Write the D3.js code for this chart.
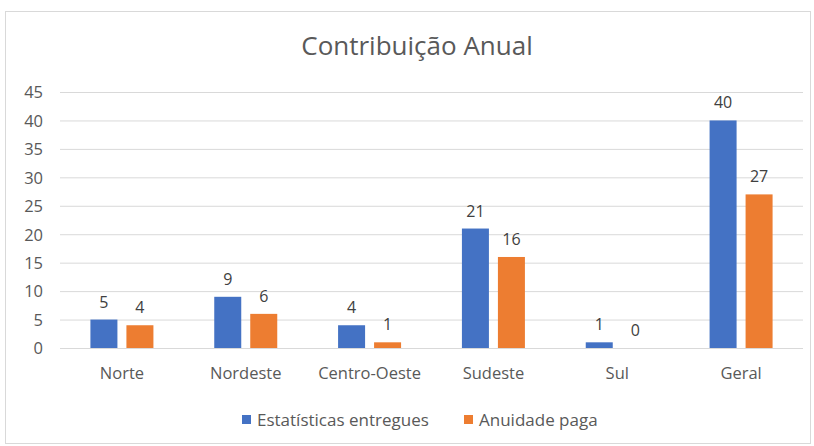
<!DOCTYPE html>
<html lang="pt">
<head>
  <meta charset="UTF-8">
  <title>Contribuição Anual</title>
  <script src="https://d3js.org/d3.v7.min.js"></script>
  <style>
    body { margin: 0; background: #fff; }
    text { font-family: "Open Sans", "DejaVu Sans", sans-serif; }
  </style>
</head>
<body>
<script>
  // chart data
  var regioes = ["Norte", "Nordeste", "Centro-Oeste", "Sudeste", "Sul", "Geral"];
  var estatisticas = [5, 9, 4, 21, 1, 40];
  var anuidade = [4, 6, 1, 16, 0, 27];
  var seriesNames = ["Estatísticas entregues", "Anuidade paga"];
  var yTicks = [0, 5, 10, 15, 20, 25, 30, 35, 40, 45];
  var colors = ["#4472C4", "#ED7D31"];

  var width = 814, height = 446;
  var plot = { left: 60, right: 803, top: 92, bottom: 348 };

  var svg = d3.select("body").append("svg")
    .attr("width", width)
    .attr("height", height);

  // outer frame
  svg.append("rect")
    .attr("x", 5.5).attr("y", 11.5)
    .attr("width", 805).attr("height", 432)
    .style("fill", "#fff")
    .style("stroke", "#D9D9D9");

  var x = d3.scaleBand().domain(regioes).range([plot.left, plot.right]);
  var y = d3.scaleLinear().domain([0, 45]).range([plot.bottom, plot.top]);
  var x1 = d3.scaleBand().domain([0, 1]).range([-31.5, 31.5]).paddingInner(0.25);

  // title
  svg.append("text")
    .attr("x", 417).attr("y", 55)
    .attr("text-anchor", "middle")
    .style("font-size", "26px")
    .style("fill", "#595959")
    .text("Contribuição Anual");

  // gridlines + y labels
  var yAxis = d3.axisLeft(y).tickValues(yTicks).tickSize(-(plot.right - plot.left)).tickPadding(17);
  var gy = svg.append("g").attr("transform", "translate(" + plot.left + ",0)").call(yAxis);
  gy.select(".domain").remove();
  gy.selectAll(".tick line").style("stroke", "#D9D9D9");
  gy.selectAll(".tick text").style("font-size", "16.5px").style("fill", "#595959")
    .attr("dy", "0.35em");

  // x labels
  var xAxis = d3.axisBottom(x).tickSize(0).tickPadding(19);
  var gx = svg.append("g").attr("transform", "translate(0," + plot.bottom + ")").call(xAxis);
  gx.select(".domain").remove();
  gx.selectAll(".tick text").style("font-size", "16.5px").style("fill", "#595959");

  var rows = regioes.map(function (r, i) {
    return { regiao: r, values: [estatisticas[i], anuidade[i]] };
  });

  var groups = svg.selectAll(".grupo").data(rows).enter().append("g")
    .attr("class", "grupo")
    .attr("transform", function (d) { return "translate(" + (x(d.regiao) + x.bandwidth() / 2) + ",0)"; });

  groups.selectAll("rect").data(function (d) { return d.values; }).enter().append("rect")
    .attr("x", function (d, i) { return x1(i); })
    .attr("width", x1.bandwidth())
    .attr("y", function (d) { return y(d); })
    .attr("height", function (d) { return plot.bottom - y(d); })
    .style("fill", function (d, i) { return colors[i]; });

  groups.selectAll(".rotulo").data(function (d) { return d.values; }).enter().append("text")
    .attr("class", "rotulo")
    .attr("x", function (d, i) { return x1(i) + x1.bandwidth() / 2; })
    .attr("y", function (d) { return y(d) - 12; })
    .attr("text-anchor", "middle")
    .style("font-size", "16px")
    .style("fill", "#404040")
    .text(function (d) { return d; });

  // legend
  var legendX = [242, 464];
  var legend = svg.selectAll(".legenda").data(seriesNames).enter().append("g")
    .attr("class", "legenda")
    .attr("transform", function (d, i) { return "translate(" + legendX[i] + ",415)"; });
  legend.append("rect").attr("width", 9).attr("height", 9)
    .style("fill", function (d, i) { return colors[i]; });
  legend.append("text").attr("x", 15).attr("y", 5).attr("dy", "0.35em")
    .style("font-size", "17px").style("fill", "#595959")
    .text(function (d) { return d; });
</script>
</body>
</html>
